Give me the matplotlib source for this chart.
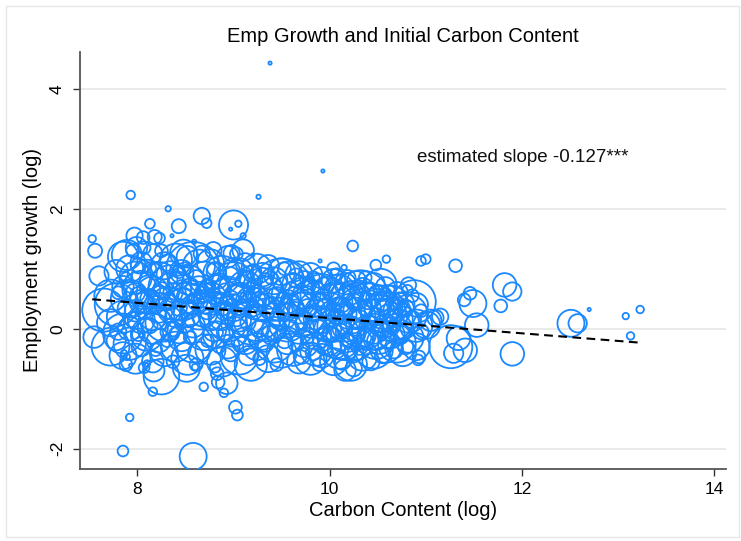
import matplotlib
matplotlib.use("Agg")
import matplotlib.pyplot as plt
from matplotlib.patches import Rectangle

plt.rcParams['font.family'] = ['Liberation Sans', 'DejaVu Sans']

# ---------------- data ----------------
title = "Emp Growth and Initial Carbon Content"
xlabel = "Carbon Content (log)"
ylabel = "Employment growth (log)"
annotation = "estimated slope -0.127***"
xticks = [8, 10, 12, 14]
yticks = [-2, 0, 2, 4]
fit_slope = -0.127
fit_intercept = 1.447

# isolated / edge points
carbon_out = [9.38, 9.93, 9.26, 7.93, 8.32, 8.67, 8.72, 8.43, 9.00, 9.05, 8.97, 9.10,
              8.13, 8.36, 7.97, 8.06, 8.18, 8.23, 7.99, 7.89, 8.48, 8.79, 8.98, 9.10,
              8.59, 9.20, 7.53, 7.56, 7.60, 7.55, 7.65, 7.85, 7.92, 7.86, 7.89, 7.93,
              8.25, 8.17, 8.16, 8.10, 8.69, 8.60, 8.81, 8.83, 8.84, 8.90, 8.93, 9.02,
              9.04, 8.51, 7.85, 8.58,
              10.24, 9.90, 10.04, 10.15, 10.48, 10.59, 10.95, 11.00, 11.31, 11.82, 11.90,
              11.78, 11.46, 11.40, 11.49, 11.53, 11.34, 11.41, 11.29, 11.26, 11.90, 11.15,
              11.10, 11.05, 11.01, 10.92, 10.93, 10.88, 10.82, 10.81, 10.56, 10.53, 10.32,
              10.16, 10.16, 10.25, 10.48, 12.51, 12.58, 12.70, 13.08, 13.23, 13.13]
growth_out = [4.43, 2.63, 2.20, 2.23, 2.00, 1.88, 1.76, 1.71, 1.73, 1.75, 1.66, 1.55,
              1.75, 1.55, 1.55, 1.52, 1.53, 1.51, 1.35, 1.23, 1.26, 1.31, 1.26, 1.31,
              1.45, 1.23, 1.50, 1.30, 0.88, -0.14, 0.31, -0.08, -1.48, -0.41, -0.47, -0.61,
              -0.80, -0.70, -1.05, -0.58, -0.97, -0.64, -0.64, -0.75, -0.89, -1.07, -0.91, -1.31,
              -1.44, -0.66, -2.04, -2.13,
              1.38, 1.13, 1.00, 1.02, 1.06, 1.16, 1.13, 1.16, 1.05, 0.73, 0.62,
              0.38, 0.59, 0.48, 0.42, 0.06, -0.16, -0.36, -0.41, -0.30, -0.42, 0.20,
              0.18, 0.14, 0.06, -0.52, -0.47, 0.45, 0.73, 0.64, 0.31, 0.73, 0.48,
              -0.08, -0.69, -0.66, -0.19, 0.09, 0.09, 0.32, 0.21, 0.32, -0.12]
weight_out = [0.09, 0.09, 0.16, 0.64, 0.25, 2.3, 0.81, 1.7, 7.3, 0.36, 0.09, 0.25,
              0.81, 0.09, 2.3, 1.4, 1.7, 1.0, 4.0, 7.8, 6.3, 2.3, 2.3, 4.0,
              0.16, 0.09, 0.49, 1.7, 3.2, 4.0, 16.0, 13.7, 0.49, 0.36, 0.36, 0.09,
              10.9, 4.0, 0.64, 0.36, 0.64, 0.36, 1.0, 1.4, 1.4, 0.64, 4.0, 1.4,
              1.0, 6.3, 1.0, 6.3,
              1.0, 0.09, 1.4, 0.25, 1.0, 0.49, 0.81, 0.81, 1.4, 4.8, 2.9,
              1.4, 1.4, 1.4, 6.3, 4.8, 4.8, 4.8, 3.2, 16.0, 4.8, 2.3,
              2.3, 4.0, 6.3, 1.0, 1.4, 16.0, 2.0, 1.0, 12.3, 9.0, 30.3,
              12.3, 4.0, 2.3, 12.3, 6.3, 2.9, 0.09, 0.36, 0.49, 0.49]

# main cloud, larger establishments
carbon_core = [7.72, 7.72, 7.72, 7.78, 7.78, 7.78, 7.85, 7.85, 7.85, 7.85,
               7.92, 7.92, 7.92, 7.92, 7.98, 7.98, 7.98, 7.98, 8.04, 8.04, 8.04, 8.04, 8.04,
               8.10, 8.10, 8.10, 8.10, 8.16, 8.16, 8.16, 8.16, 8.16, 8.22, 8.22, 8.22, 8.22,
               8.28, 8.28, 8.28, 8.28, 8.34, 8.34, 8.34, 8.34, 8.40, 8.40, 8.40, 8.40, 8.40,
               8.46, 8.46, 8.46, 8.46, 8.52, 8.52, 8.52, 8.52, 8.58, 8.58, 8.58, 8.58,
               8.64, 8.64, 8.64, 8.64, 8.70, 8.70, 8.70, 8.70, 8.76, 8.76, 8.76, 8.76,
               8.82, 8.82, 8.82, 8.82, 8.88, 8.88, 8.88, 8.88, 8.94, 8.94, 8.94, 8.94,
               9.00, 9.00, 9.00, 9.00, 9.06, 9.06, 9.06, 9.06, 9.06, 9.12, 9.12, 9.12, 9.12,
               9.18, 9.18, 9.18, 9.18, 9.24, 9.24, 9.24, 9.24, 9.30, 9.30, 9.30, 9.30,
               9.36, 9.36, 9.36, 9.36, 9.42, 9.42, 9.42, 9.42, 9.50, 9.50, 9.50, 9.50,
               9.56, 9.56, 9.56, 9.56, 9.62, 9.62, 9.62, 9.62, 9.68, 9.68, 9.68, 9.68,
               9.74, 9.74, 9.74, 9.74, 9.80, 9.80, 9.80, 9.80, 9.86, 9.86, 9.86, 9.86,
               9.92, 9.92, 9.92, 9.92, 9.98, 9.98, 9.98, 9.98, 10.04, 10.04, 10.04, 10.04,
               10.10, 10.10, 10.10, 10.10, 10.16, 10.16, 10.16, 10.16, 10.22, 10.22, 10.22, 10.22,
               10.28, 10.28, 10.28, 10.28, 10.34, 10.34, 10.34, 10.34, 10.40, 10.40, 10.40,
               10.46, 10.46, 10.46, 10.46, 10.52, 10.52, 10.52, 10.58, 10.58, 10.58, 10.58,
               10.64, 10.64, 10.64, 10.70, 10.70, 10.70, 10.70, 10.76, 10.76, 10.76,
               10.82, 10.82, 10.90, 10.90, 10.90]
growth_core = [0.55, 0.10, -0.30, 0.95, 0.40, -0.20, 1.20, 0.70, 0.20, -0.45,
               1.00, 0.50, 0.00, -0.25, 0.85, 0.30, -0.50, 0.60, 1.10, 0.65, 0.15, -0.30, 0.45,
               0.90, 0.45, -0.10, 0.75, 1.25, 0.60, 0.20, -0.55, 0.00, 0.80, 0.35, -0.20, 0.55,
               1.05, 0.50, 0.10, -0.40, 0.70, 0.30, -0.05, 0.90, 1.15, 0.55, 0.20, -0.30, 0.80,
               0.95, 0.40, -0.15, 0.65, 0.75, 0.25, -0.50, 1.20, 1.00, 0.50, 0.05, -0.25,
               0.65, 0.30, -0.40, 1.05, 0.85, 0.45, 0.00, 0.60, 1.10, 0.50, 0.15, -0.35,
               0.70, 0.30, -0.10, 0.95, 0.90, 0.40, -0.55, 0.20, 1.20, 0.60, 0.10, -0.30,
               0.75, 0.35, -0.05, 1.00, 0.95, 0.50, 0.15, -0.45, 0.60, 0.70, 0.25, -0.20, 1.10,
               0.85, 0.45, 0.05, -0.60, 1.00, 0.55, 0.20, -0.30, 0.70, 0.35, -0.10, 0.90,
               0.60, 0.15, -0.50, 1.05, 0.80, 0.40, 0.00, -0.25, 0.65, 0.25, -0.40, 0.95,
               0.85, 0.45, 0.10, -0.20, 0.55, 0.20, -0.35, 0.75, 0.90, 0.40, 0.00, -0.55,
               0.60, 0.25, -0.25, 0.80, 0.50, 0.10, -0.50, 0.90, 0.70, 0.30, -0.10, -0.35,
               0.55, 0.15, -0.45, 0.85, 0.60, 0.20, -0.20, 0.00, 0.45, 0.05, -0.55, 0.80,
               0.65, 0.30, -0.15, -0.40, 0.50, 0.10, -0.30, 0.75, 0.35, -0.05, -0.60, 0.60,
               0.55, 0.20, -0.25, 0.80, 0.30, -0.10, -0.45, 0.65, 0.20, -0.05, 0.55,
               0.40, 0.00, -0.35, 0.75, 0.25, -0.15, 0.50, 0.35, -0.30, 0.05, 0.70,
               0.15, -0.10, 0.45, 0.30, -0.25, 0.60, 0.00, 0.10, -0.40, 0.40,
               0.25, -0.15, 0.05, 0.40, -0.30]
weight_core = [9.0, 6.3, 12.3, 4.8, 16.0, 3.2, 7.8, 4.0, 9.0, 6.3,
               6.3, 12.3, 4.8, 9.0, 9.0, 4.0, 7.8, 3.2, 4.0, 12.3, 6.3, 3.2, 4.8,
               7.8, 4.8, 9.0, 2.3, 3.2, 9.0, 6.3, 4.0, 7.8, 12.3, 7.8, 4.8, 3.2,
               6.3, 4.0, 12.3, 6.3, 16.0, 4.8, 3.2, 6.3, 9.0, 20.3, 4.0, 7.8, 2.3,
               4.8, 9.0, 6.3, 3.2, 12.3, 6.3, 9.0, 4.0, 25.0, 7.8, 4.8, 12.3,
               6.3, 12.3, 4.0, 9.0, 9.0, 4.8, 16.0, 3.2, 6.3, 9.0, 4.0, 7.8,
               4.8, 12.3, 6.3, 3.2, 12.3, 4.0, 7.8, 6.3, 4.0, 9.0, 12.3, 4.8,
               16.0, 6.3, 7.8, 4.0, 6.3, 9.0, 4.8, 12.3, 3.2, 9.0, 16.0, 6.3, 3.2,
               4.8, 7.8, 12.3, 9.0, 7.8, 4.0, 20.3, 6.3, 12.3, 6.3, 7.8, 4.8,
               9.0, 16.0, 6.3, 4.0, 6.3, 9.0, 4.8, 12.3, 33.6, 9.0, 7.8, 6.3,
               9.0, 4.8, 12.3, 6.3, 16.0, 7.8, 9.0, 4.0, 6.3, 12.3, 7.8, 4.8,
               9.0, 16.0, 6.3, 3.2, 12.3, 7.8, 9.0, 4.8, 6.3, 12.3, 7.8, 9.0,
               16.0, 6.3, 4.8, 4.0, 9.0, 20.3, 7.8, 6.3, 12.3, 9.0, 6.3, 4.8,
               7.8, 6.3, 16.0, 9.0, 9.0, 12.3, 6.3, 4.0, 16.0, 7.8, 9.0, 4.8,
               6.3, 12.3, 9.0, 3.2, 12.3, 6.3, 7.8, 4.8, 38.4, 9.0, 6.3,
               9.0, 7.8, 12.3, 4.0, 12.3, 9.0, 6.3, 7.8, 9.0, 4.8, 3.2,
               16.0, 6.3, 9.0, 6.3, 12.3, 4.0, 7.8, 9.0, 6.3, 4.8,
               12.3, 7.8, 9.0, 4.8, 6.3]

# main cloud, smaller establishments
carbon_small = [7.80, 7.80, 7.88, 7.88, 7.88, 7.95, 7.95, 8.01, 8.01, 8.01,
                8.07, 8.07, 8.07, 8.13, 8.13, 8.13, 8.19, 8.19, 8.19, 8.25, 8.25, 8.25,
                8.31, 8.31, 8.31, 8.37, 8.37, 8.37, 8.43, 8.43, 8.43, 8.49, 8.49, 8.49,
                8.55, 8.55, 8.55, 8.61, 8.61, 8.61, 8.67, 8.67, 8.67, 8.73, 8.73, 8.73,
                8.79, 8.79, 8.79, 8.85, 8.85, 8.85, 8.91, 8.91, 8.91, 8.97, 8.97, 8.97,
                9.03, 9.03, 9.03, 9.09, 9.09, 9.09, 9.15, 9.15, 9.15, 9.21, 9.21, 9.21,
                9.27, 9.27, 9.27, 9.33, 9.33, 9.33, 9.39, 9.39, 9.39, 9.45, 9.45, 9.45,
                9.53, 9.53, 9.53, 9.59, 9.59, 9.59, 9.65, 9.65, 9.65, 9.71, 9.71, 9.71,
                9.77, 9.77, 9.77, 9.83, 9.83, 9.83, 9.89, 9.89, 9.89, 9.95, 9.95, 9.95,
                10.01, 10.01, 10.01, 10.07, 10.07, 10.07, 10.13, 10.13, 10.13,
                10.19, 10.19, 10.19, 10.25, 10.25, 10.25, 10.31, 10.31, 10.31,
                10.37, 10.37, 10.37, 10.43, 10.43, 10.43, 10.49, 10.49, 10.49,
                10.55, 10.55, 10.55, 10.61, 10.61, 10.61, 10.67, 10.67, 10.67,
                10.73, 10.73, 10.73, 10.79, 10.79, 10.86, 10.86, 10.95, 10.95]
growth_small = [0.60, -0.05, 0.35, 0.85, -0.60, 0.15, 1.30, 0.55, -0.10, 1.05,
                0.30, 1.35, -0.65, 0.50, 0.05, 1.00, 0.95, 0.40, -0.35, 0.65, 0.15, 1.30,
                0.45, -0.20, 1.10, 0.60, 0.00, -0.55, 0.35, 0.95, -0.10, 0.55, 0.10, 1.00,
                0.70, -0.15, 0.30, 0.45, 0.85, -0.60, 0.20, 0.60, 1.25, 0.70, 0.30, -0.20,
                0.55, -0.05, 1.00, 0.45, 0.80, -0.30, 0.30, 0.65, -0.05, 0.50, 0.90, -0.40,
                0.60, 0.20, 1.25, 0.35, 0.80, -0.25, 0.50, 0.10, -0.45, 0.70, 0.30, 0.95,
                0.45, 0.00, -0.50, 0.80, 0.25, -0.25, 0.40, 0.85, -0.10, 0.55, 0.15, -0.60,
                0.30, 1.00, -0.20, 0.65, 0.00, 0.40, 0.35, -0.25, 0.90, 0.50, 0.10, -0.45,
                0.70, 0.35, -0.15, 0.25, -0.40, 0.85, 0.45, 0.00, -0.60, 0.75, 0.35, -0.30,
                0.30, -0.10, 0.60, 0.20, -0.35, 0.90, 0.40, 0.00, -0.55,
                0.25, -0.20, 0.85, 0.45, 0.05, -0.40, 0.15, -0.30, 0.70,
                0.35, -0.15, 0.85, 0.50, 0.10, -0.55, 0.20, -0.20, 0.60,
                0.40, 0.00, -0.45, 0.25, 0.60, -0.20, 0.45, -0.35, 0.05,
                0.20, 0.50, -0.10, 0.35, -0.30, 0.15, 0.55, -0.05, 0.30]
weight_small = [1.4, 2.3, 2.3, 1.0, 1.4, 2.0, 1.4, 2.6, 1.4, 2.0,
                2.3, 1.4, 1.0, 3.2, 2.0, 1.4, 2.3, 2.6, 1.4, 2.0, 3.2, 1.4,
                2.6, 1.4, 2.3, 3.2, 2.0, 1.4, 2.3, 1.4, 2.6, 2.0, 3.2, 1.4,
                2.6, 1.4, 2.0, 2.3, 2.0, 1.4, 3.2, 1.4, 2.3, 2.0, 2.6, 1.4,
                2.3, 3.2, 1.4, 2.6, 2.0, 1.4, 3.2, 1.4, 2.3, 2.3, 2.0, 2.6,
                2.0, 3.2, 1.4, 2.6, 1.4, 2.3, 2.3, 2.0, 3.2, 1.4, 2.6, 2.0,
                3.2, 2.3, 1.4, 2.0, 2.6, 2.3, 2.3, 1.4, 3.2, 2.6, 2.0, 1.4,
                2.3, 1.4, 2.0, 2.0, 2.6, 3.2, 2.3, 2.0, 1.4, 3.2, 1.4, 2.3,
                2.0, 2.6, 1.4, 2.3, 2.0, 1.4, 2.6, 3.2, 1.4, 1.4, 2.3, 2.0,
                3.2, 2.0, 2.3, 2.3, 2.6, 1.4, 2.0, 3.2, 2.3,
                2.6, 1.4, 2.0, 2.3, 2.0, 3.2, 3.2, 2.3, 1.4,
                2.0, 2.6, 1.4, 2.3, 1.4, 2.6, 2.6, 3.2, 2.0,
                1.4, 2.3, 2.0, 3.2, 2.0, 2.3, 2.3, 2.6, 1.4,
                2.0, 1.4, 3.2, 2.3, 2.0, 2.6, 1.4, 2.0, 1.4]

carbon = carbon_out + carbon_core + carbon_small
growth = growth_out + growth_core + growth_small
weight = weight_out + weight_core + weight_small

# ---------------- figure ----------------
W, H = 741, 541
fig = plt.figure(figsize=(W / 100, H / 100), dpi=100)
fig.patch.set_facecolor('white')
fig.patches.append(Rectangle((6 / W, 4 / H), (W - 8) / W, (H - 10) / H,
                             transform=fig.transFigure, fill=False,
                             edgecolor='#e6e6e6', linewidth=1.0))

ax = fig.add_axes([80.3 / W, 1 - 469 / H, (725.7 - 80.3) / W, (469 - 51.7) / H])
ax.set_xlim(7.406, 14.12)
ax.set_ylim(-2.34, 4.62)

blue = '#1a88ff'
area_per_weight = 60.0
ax.scatter(carbon, growth, s=[w * area_per_weight for w in weight],
           facecolors='none', edgecolors=blue, linewidths=1.3, zorder=3)

x0, x1 = min(carbon), max(carbon)
ax.plot([x0, x1], [fit_intercept + fit_slope * x0, fit_intercept + fit_slope * x1],
        color='black', lw=1.5, dashes=(4.2, 2.6), zorder=4)

ax.text(10.91, 2.85, annotation, fontsize=13.5, va='center', ha='left', color='#111111')

ax.set_xticks(xticks)
ax.set_yticks(yticks)
ax.set_yticklabels([str(t) for t in yticks], rotation=90, va='center')
ax.tick_params(axis='both', labelsize=12.5, length=5, width=1.0, color='#333333',
               labelcolor='black')
ax.tick_params(axis='y', pad=6)
ax.tick_params(axis='x', pad=4)
ax.grid(axis='y', color='#e8e8e8', lw=1.3, zorder=0)
ax.set_axisbelow(True)
for side in ['top', 'right']:
    ax.spines[side].set_visible(False)
for side in ['left', 'bottom']:
    ax.spines[side].set_color('#555555')
    ax.spines[side].set_linewidth(1.3)

ax.set_xlabel(xlabel, fontsize=14.5, labelpad=3)
ax.set_ylabel(ylabel, fontsize=14.5, labelpad=6)
ax.set_title(title, fontsize=14.5, pad=7)

fig.savefig('out.png', dpi=100)
